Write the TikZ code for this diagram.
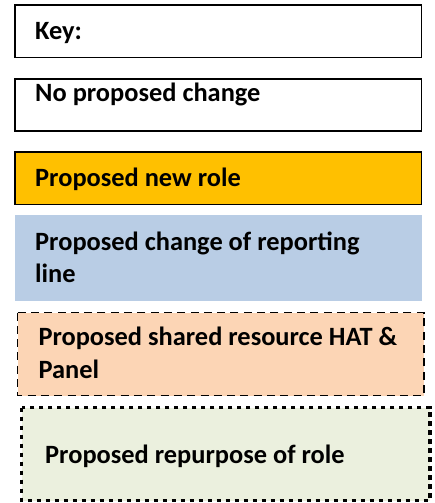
\documentclass[tikz,border=0pt]{standalone}
\usepackage{fontspec}
\setmainfont{Carlito}
\definecolor{roleorange}{HTML}{FFC000}
\definecolor{lineblue}{HTML}{B9CDE5}
\definecolor{sharedpeach}{HTML}{FCD5B5}
\definecolor{repurposegreen}{HTML}{EBF0DE}
\begin{document}
\begin{tikzpicture}[x=1pt,y=-1pt,
  keytext/.style={anchor=base west,inner sep=0pt,align=left,
    font=\fontsize{26.4}{32.6}\selectfont\bfseries},
  solidbox/.style={draw=black,line width=1.3pt},
  dashbox/.style={draw=black,line width=1.3pt,dash pattern=on 8pt off 5.3pt},
  dotbox/.style={draw=black,line width=3.5pt,dash pattern=on 4.5pt off 4.5pt}]
\useasboundingbox (0,0) rectangle (434,503);
% legend boxes, top to bottom
\path[solidbox,fill=white] (15,5) rectangle (421.5,57.5);
\path[solidbox,fill=white] (15,79) rectangle (421.5,131);
\path[solidbox,fill=roleorange] (15,152) rectangle (421.5,204.5);
\path[fill=lineblue] (15,215) rectangle (422,300.5);
\path[dashbox,fill=sharedpeach] (17.5,312.5) rectangle (424,395.5);
\path[dotbox,fill=repurposegreen] (21.7,407.5) rectangle (430,500.5);
% labels (two-line labels are anchored on their last baseline)
\node[keytext] (key) at (35,39.3) {Key:};
\node[keytext] (none) at (35,101) {No proposed change};
\node[keytext] (newrole) at (35,186.7) {Proposed new role};
\node[keytext] (reporting) at (35,282.7) {Proposed change of reporting\\line};
\node[keytext] (shared) at (38.3,378.3) {Proposed shared resource HAT \&\\Panel};
\node[keytext] (repurpose) at (45,463.3) {Proposed repurpose of role};
\end{tikzpicture}
\end{document}
